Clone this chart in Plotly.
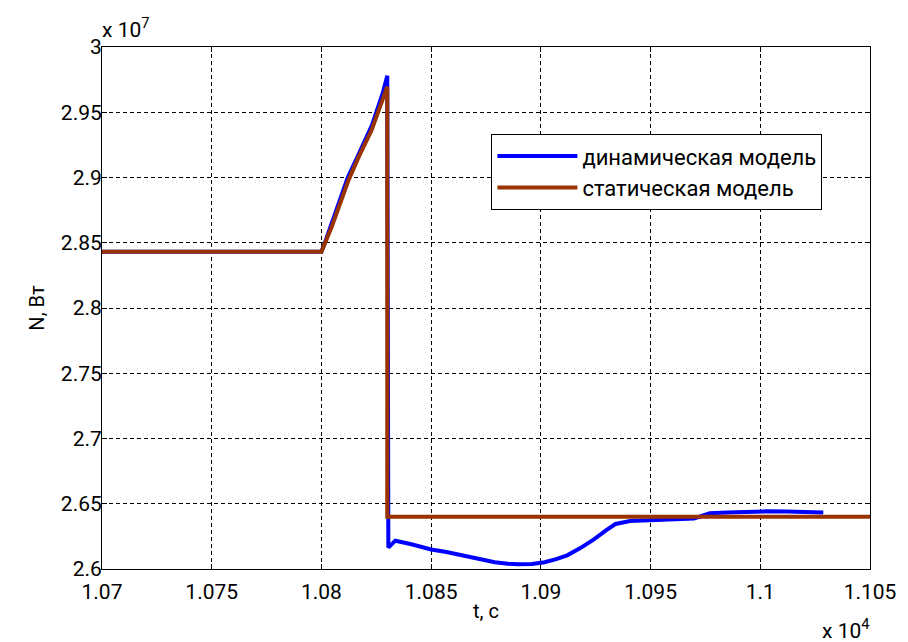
import plotly.graph_objects as go

# static model
t_static = [10700, 10800, 10804.7, 10812.4, 10817, 10822.9, 10830, 10830, 11050]
n_static = [2.8431e7, 2.8431e7, 2.8622e7, 2.8982e7, 2.9158e7, 2.9364e7, 2.9696e7, 2.6401e7, 2.6401e7]

# dynamic model
t_dyn = [10700, 10800, 10802, 10805, 10809, 10812, 10817, 10823, 10828, 10830, 10830.5, 10833.7,
         10841, 10850, 10857, 10863.7, 10871, 10879, 10885, 10889.5, 10896, 10901.7, 10907,
         10912, 10918, 10924, 10930, 10934, 10940.7, 10950, 10962, 10969.8, 10974, 10977,
         10985, 10995, 11003, 11012, 11020, 11028.7]
n_dyn = [2.8431e7, 2.8431e7, 2.852e7, 2.866e7, 2.885e7, 2.900e7, 2.918e7, 2.940e7, 2.965e7,
         2.978e7, 2.6164e7, 2.6217e7, 2.6190e7, 2.6150e7, 2.6130e7, 2.6105e7, 2.6075e7,
         2.6052e7, 2.6040e7, 2.6036e7, 2.6038e7, 2.6052e7, 2.6075e7, 2.6105e7, 2.6160e7,
         2.6225e7, 2.6300e7, 2.6345e7, 2.6368e7, 2.6375e7, 2.6378e7, 2.6386e7, 2.6410e7,
         2.6428e7, 2.6432e7, 2.6438e7, 2.6442e7, 2.6440e7, 2.6436e7, 2.6432e7]

x_tickvals = [10700, 10750, 10800, 10850, 10900, 10950, 11000, 11050]
x_ticktext = ["1.07", "1.075", "1.08", "1.085", "1.09", "1.095", "1.1", "1.105"]
y_tickvals = [2.6e7, 2.65e7, 2.7e7, 2.75e7, 2.8e7, 2.85e7, 2.9e7, 2.95e7, 3.0e7]
y_ticktext = ["2.6", "2.65", "2.7", "2.75", "2.8", "2.85", "2.9", "2.95", "3"]

FONT = "Roboto"
FS = 21
fig = go.Figure()
fig.add_trace(go.Scatter(x=t_dyn, y=n_dyn, mode="lines", name="динамическая модель",
                         line=dict(color="#0000FF", width=4)))
fig.add_trace(go.Scatter(x=t_static, y=n_static, mode="lines", name="статическая модель",
                         line=dict(color="#993300", width=4)))

axis_common = dict(showline=True, linecolor="black", linewidth=1, mirror="allticks",
                   ticks="inside", ticklen=5, tickcolor="black",
                   showgrid=True, gridcolor="black", griddash="4px,3px", gridwidth=1,
                   zeroline=False, tickfont=dict(family=FONT, size=FS, color="black"))

fig.update_xaxes(range=[10700, 11050], tickvals=x_tickvals, ticktext=x_ticktext,
                 ticklabelstandoff=4,
                 title=dict(text="t, с", font=dict(family=FONT, size=20, color="black"), standoff=0),
                 **axis_common)
fig.update_yaxes(range=[2.6e7, 3.0e7], tickvals=y_tickvals, ticktext=y_ticktext,
                 ticklabelstandoff=-5,
                 title=dict(text="N, Вт", font=dict(family=FONT, size=20, color="black"), standoff=10),
                 **axis_common)

fig.update_layout(
    width=900, height=634,
    margin=dict(l=94, r=34, t=39, b=73),
    paper_bgcolor="white", plot_bgcolor="white",
    font=dict(family=FONT, size=FS, color="black"),
    showlegend=True,
    legend=dict(x=0.507, y=0.833, xanchor="left", yanchor="top",
                bgcolor="white", bordercolor="black", borderwidth=1,
                itemwidth=80, entrywidth=247,
                font=dict(family=FONT, size=22, color="black"),
                tracegroupgap=0),
    annotations=[
        dict(text="x 10<sup>7</sup>", xref="paper", yref="paper", x=-0.003, y=1.005,
             xanchor="left", yanchor="bottom", showarrow=False,
             font=dict(family=FONT, size=FS, color="black")),
        dict(text="x 10<sup>4</sup>", xref="paper", yref="paper", x=0.935, y=-0.085,
             xanchor="left", yanchor="top", showarrow=False,
             font=dict(family=FONT, size=FS, color="black")),
    ],
)

fig.write_html("out.html")
